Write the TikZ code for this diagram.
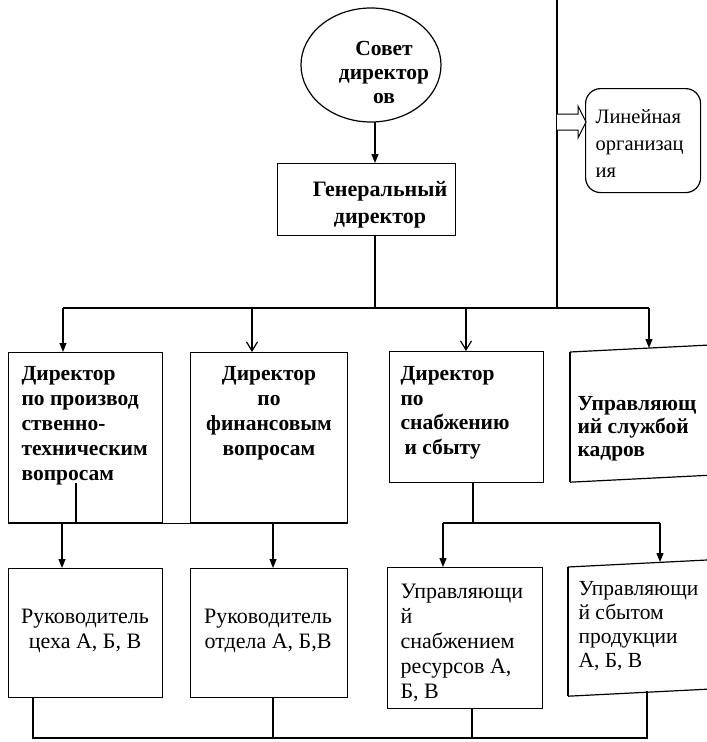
\documentclass[tikz,border=0pt]{standalone}
\usepackage{fontspec}
\setmainfont{Liberation Serif}
\usetikzlibrary{arrows.meta,shapes.geometric}
\begin{document}
\begin{tikzpicture}[x=1pt,y=-1pt,
  line width=1.2pt,
  box/.style={draw, rectangle, anchor=north west, inner sep=0pt},
  frame/.style={rectangle, anchor=north west, inner sep=0pt},
  bt/.style={inner sep=0pt, font=\fontsize{21.5}{25}\selectfont\bfseries},
  rt/.style={inner sep=0pt, font=\fontsize{22}{25}\selectfont},
  tip/.style={-{Triangle[length=9pt,width=7pt]}},
  vtip/.style={-{Straight Barb[length=9pt,width=11pt]}},
]
\useasboundingbox (0,0) rectangle (707,742);
\clip (0,0) rectangle (707,742);

% top level
\node[draw, ellipse, minimum width=140pt, minimum height=114pt, inner sep=0pt] (sovet) at (371,65) {};
\node[bt, align=center, anchor=north, font=\fontsize{21.5}{24}\selectfont\bfseries] (sovettext) at (384,41) {Совет\\директор\\ов};
\node[box, minimum width=178pt, minimum height=72pt] (gen) at (277,163) {};
\node[bt, align=center, anchor=north, font=\fontsize{22}{27}\selectfont\bfseries] (gentext) at (380,181) {Генеральный\\директор};

% separator and side note
\coordinate (septop) at (557,0);
\coordinate (sepbot) at (557,308);
\draw (septop) -- (sepbot);
\node[draw, rectangle, rounded corners=15pt, anchor=north west, minimum width=115pt, minimum height=104pt] (lin) at (585,88) {};
\node[rt, align=left, anchor=north west, font=\fontsize{20.5}{27}\selectfont] (lintext) at (595,109) {Линейная\\организац\\ия};
\coordinate (sepmid) at (557,122);
\coordinate (lintip) at (586,122);
\draw[line width=1pt, fill=white] (sepmid) ++(0,-8) -- ++(21,0) -- ++(0,-8) -- (lintip) -- ++(-8,16) -- ++(0,-8) -- ++(-21,0);

% second level boxes
\node[box, minimum width=154pt, minimum height=170pt] (b1) at (8,352) {};
\node[box, minimum width=157pt, minimum height=170pt] (b2) at (190,352) {};
\node[box, minimum width=154pt, minimum height=131pt] (b3) at (389,351) {};
\node[frame, minimum width=140pt, minimum height=129pt] (b4) at (570,352) {};
\draw (b4.north west) -- ++(140,-7);
\draw (b4.south west) -- ++(140,-7);
\draw (b4.north west) -- (b4.south west);

\node[bt, align=left, anchor=north west] (b1text) at (21,366) {Директор\\по производ\\ственно-\\техническим\\вопросам};
\node[bt, align=center, anchor=north] (b2text) at (269,366) {Директор\\по\\финансовым\\вопросам};
\node[bt, align=left, anchor=north west, font=\fontsize{21.5}{24.5}\selectfont\bfseries] (b3text) at (400,366) {Директор\\по\\снабжению\\\hspace{4pt}и сбыту};
\node[bt, align=left, anchor=north west, font=\fontsize{21.5}{23}\selectfont\bfseries] (b4text) at (577,396) {Управляющ\\ий службой\\кадров};

% third level boxes
\node[box, minimum width=154pt, minimum height=129pt] (b5) at (8,568) {};
\node[box, minimum width=157pt, minimum height=129pt] (b6) at (190,568) {};
\node[box, minimum width=155pt, minimum height=141pt] (b7) at (387,567) {};
\node[frame, minimum width=139pt, minimum height=128pt] (b8) at (568,567) {};
\draw (b8.north west) -- ++(139,-7);
\draw (b8.south west) -- ++(139,-7);
\draw (b8.north west) -- (b8.south west);

\node[rt, align=center, anchor=north] (b5text) at (85,608) {Руководитель\\цеха А, Б, В};
\node[rt, align=center, anchor=north] (b6text) at (268,608) {Руководитель\\отдела А, Б,В};
\node[rt, align=left, anchor=north west] (b7text) at (400,583) {Управляющи\\й\\снабжением\\ресурсов А,\\Б, В};
\node[rt, align=left, anchor=north west, font=\fontsize{21.5}{24}\selectfont] (b8text) at (578,581) {Управляющи\\й сбытом\\продукции\\А, Б, В};

% links from the top
\coordinate (svb) at (375,122);
\draw[tip] (svb) -- (svb |- gen.north);
\coordinate (genbot) at (375,235);
\coordinate (bus1) at (375,308);
\draw (genbot) -- (bus1);
\coordinate (bus1l) at (63,308);
\coordinate (bus1r) at (649,308);
\coordinate (bus1b) at (252,308);
\coordinate (bus1c) at (466,308);
\draw (bus1l) -- (bus1r);
\coordinate (b4top) at (649,348);
\draw[tip] (bus1l) -- (bus1l |- b1.north);
\draw[vtip] (bus1b) -- (bus1b |- b2.north);
\draw[vtip] (bus1c) -- (bus1c |- b3.north);
\draw[tip] (bus1r) -- (b4top);

% links from the second level
\coordinate (b1in) at (76,483);
\coordinate (bus2l) at (62,522);
\coordinate (bus2r) at (273,522);
\draw (b1in) -- (b1in |- b1.south);
\draw (b1.south west) -- (b2.south east);
\draw[tip] (bus2l) -- (bus2l |- b5.north);
\draw[tip] (bus2r) -- (bus2r |- b6.north);
\coordinate (b3bot) at (473,482);
\coordinate (bus3l) at (443,523);
\coordinate (bus3r) at (660,523);
\draw (b3bot) -- (b3bot |- bus3l);
\draw (bus3l) -- (bus3r);
\draw[tip] (bus3l) -- (bus3l |- b7.north);
\coordinate (b8top) at (660,562);
\draw[tip] (bus3r) -- (b8top);

% bottom bus
\coordinate (b5bot) at (33,697);
\coordinate (b6bot) at (273,697);
\coordinate (b7bot) at (472,708);
\coordinate (b8bot) at (647,691);
\coordinate (busl) at (33,738);
\coordinate (busr) at (647,738);
\draw (b5bot) -- (busl) -- (busr) -- (b8bot);
\draw (b6bot) -- (b6bot |- busl);
\draw (b7bot) -- (b7bot |- busl);
\end{tikzpicture}
\end{document}
